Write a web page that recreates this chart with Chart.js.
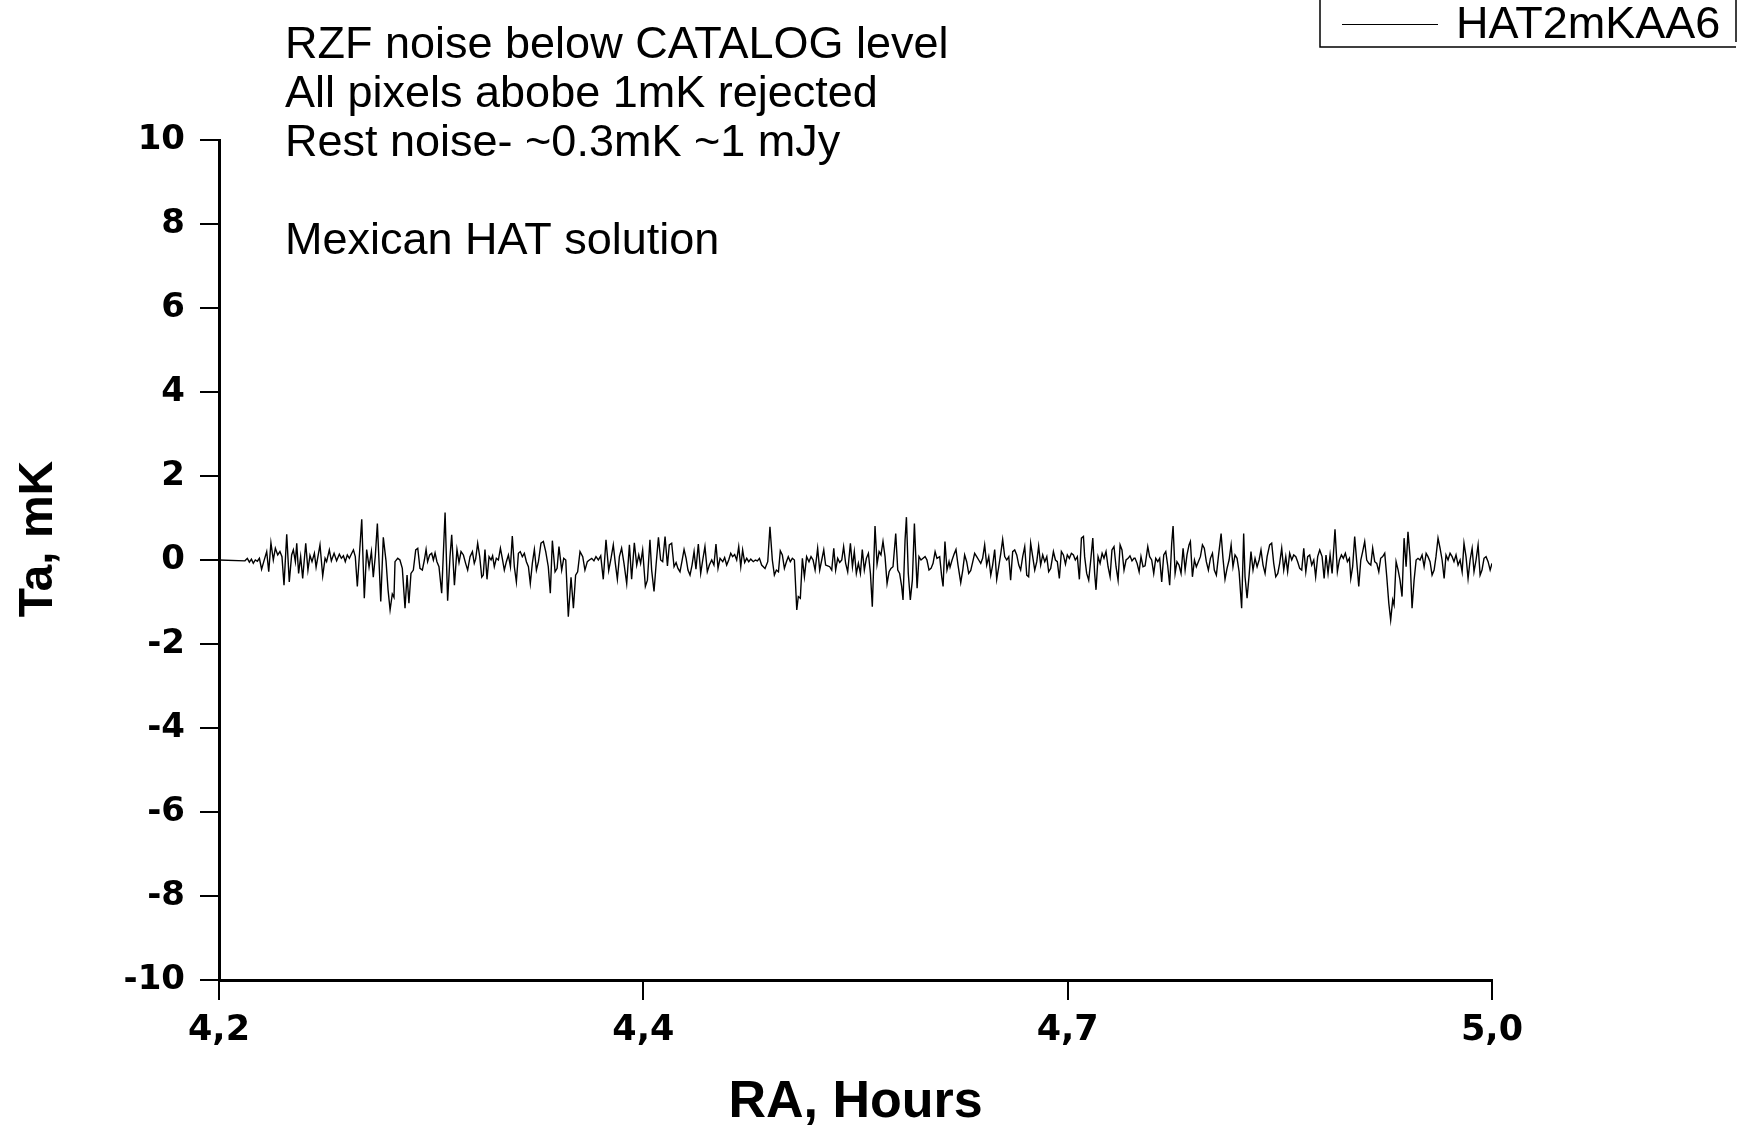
<!DOCTYPE html>
<html>
<head>
<meta charset="utf-8">
<script src="https://cdn.jsdelivr.net/npm/chart.js@4/dist/chart.umd.min.js"></script>
<style>
  html, body { margin: 0; padding: 0; background: #fff; }
  #wrap { width: 1745px; height: 1125px; }
</style>
</head>
<body>
<div id="wrap"><canvas id="chart" width="1745" height="1125"></canvas></div>
<script>
// ---------------- Data ----------------
const seriesLabel = "HAT2mKAA6";

// RA, hours
const raHours = [
  4.2, 4.2153, 4.2167, 4.2179, 4.2191, 4.2202, 4.2214, 4.2226, 4.2238, 4.2251,
  4.2265, 4.2281, 4.2293, 4.2306, 4.2320, 4.2332, 4.2346, 4.2359, 4.2371, 4.2383,
  4.2399, 4.2414, 4.2428, 4.2438, 4.2450, 4.2458, 4.2469, 4.2481, 4.2493, 4.2511,
  4.2524, 4.2536, 4.2548, 4.2562, 4.2572, 4.2595, 4.2611, 4.2625, 4.2634, 4.2650,
  4.2662, 4.2678, 4.2693, 4.2709, 4.2721, 4.2733, 4.2744, 4.2756, 4.2768, 4.2782,
  4.2792, 4.2803, 4.2815, 4.2841, 4.2856, 4.2870, 4.2884, 4.2898, 4.2909, 4.2921,
  4.2933, 4.2953, 4.2968, 4.2984, 4.2996, 4.3008, 4.3021, 4.3031,
  4.3037, 4.3053, 4.3066, 4.3080, 4.3096, 4.3108, 4.3119, 4.3131, 4.3145, 4.3159,
  4.3171, 4.3184, 4.3198, 4.3210, 4.3220, 4.3229, 4.3241, 4.3253, 4.3263, 4.3273,
  4.3284, 4.3296, 4.3312, 4.3332, 4.3347, 4.3361, 4.3371, 4.3387, 4.3402, 4.3414,
  4.3426, 4.3440, 4.3453, 4.3465, 4.3479, 4.3493, 4.3504, 4.3512, 4.3524, 4.3536,
  4.3548, 4.3557, 4.3567, 4.3579, 4.3591, 4.3603, 4.3612, 4.3622, 4.3634, 4.3646,
  4.3658, 4.3669, 4.3681, 4.3693, 4.3705, 4.3717, 4.3728, 4.3740, 4.3752, 4.3764,
  4.3775, 4.3787, 4.3799, 4.3811, 4.3823, 4.3834, 4.3846, 4.3858, 4.3870, 4.3882,
  4.3897, 4.3911, 4.3925, 4.3940, 4.3952, 4.3964, 4.3980, 4.3992, 4.4003, 4.4019,
  4.4031, 4.4043, 4.4058, 4.4074, 4.4088, 4.4101, 4.4113,
  4.4127, 4.4143, 4.4156, 4.4170, 4.4182, 4.4196, 4.4209, 4.4221, 4.4235, 4.4249,
  4.4264, 4.4280, 4.4296, 4.4308, 4.4323, 4.4335, 4.4347, 4.4359, 4.4372, 4.4386,
  4.4402, 4.4418, 4.4431, 4.4447, 4.4461, 4.4473, 4.4484, 4.4496, 4.4512, 4.4524,
  4.4539, 4.4549, 4.4563, 4.4575, 4.4589, 4.4602, 4.4614, 4.4628, 4.4642, 4.4653,
  4.4667, 4.4681, 4.4693, 4.4704, 4.4716, 4.4728, 4.4740, 4.4752, 4.4763, 4.4775,
  4.4787, 4.4799, 4.4810, 4.4824, 4.4838, 4.4850, 4.4863, 4.4877, 4.4889, 4.4903,
  4.4916, 4.4928, 4.4940, 4.4952, 4.4968, 4.4979, 4.4991, 4.5003, 4.5015, 4.5026,
  4.5038, 4.5050, 4.5062, 4.5074, 4.5085, 4.5097, 4.5109, 4.5121, 4.5133, 4.5148,
  4.5160, 4.5172, 4.5184, 4.5197,
  4.5217, 4.5233, 4.5246, 4.5260, 4.5272, 4.5284, 4.5296, 4.5307, 4.5319, 4.5331,
  4.5343, 4.5354, 4.5366, 4.5378, 4.5390, 4.5404, 4.5413, 4.5425, 4.5437, 4.5449,
  4.5462, 4.5476, 4.5488, 4.5500, 4.5512, 4.5527, 4.5539, 4.5551, 4.5563, 4.5574,
  4.5586, 4.5598, 4.5610, 4.5622, 4.5633, 4.5645, 4.5657, 4.5669, 4.5680, 4.5692,
  4.5704, 4.5720, 4.5732, 4.5743, 4.5755, 4.5767, 4.5779, 4.5790, 4.5802, 4.5814,
  4.5826, 4.5838, 4.5849, 4.5865, 4.5877, 4.5889, 4.5900, 4.5912, 4.5924, 4.5936,
  4.5948, 4.5959, 4.5971, 4.5987, 4.5999, 4.6010, 4.6022, 4.6030, 4.6042, 4.6050,
  4.6061, 4.6073, 4.6085, 4.6097, 4.6113, 4.6124, 4.6136, 4.6148, 4.6160, 4.6171,
  4.6183, 4.6195, 4.6207, 4.6219, 4.6230, 4.6246, 4.6258, 4.6266, 4.6277, 4.6289,
  4.6301,
  4.6307, 4.6319, 4.6331, 4.6342, 4.6354, 4.6370, 4.6382, 4.6393, 4.6405, 4.6417,
  4.6429, 4.6441, 4.6452, 4.6464, 4.6476, 4.6488, 4.6499, 4.6511, 4.6523, 4.6535,
  4.6547, 4.6558, 4.6570, 4.6582, 4.6594, 4.6606, 4.6617, 4.6629, 4.6641, 4.6653,
  4.6664, 4.6676, 4.6688, 4.6700, 4.6712, 4.6723, 4.6735, 4.6747, 4.6759, 4.6770,
  4.6782, 4.6794, 4.6806, 4.6818, 4.6829, 4.6841, 4.6853, 4.6865, 4.6877, 4.6888,
  4.6900, 4.6916, 4.6928, 4.6939, 4.6951, 4.6963, 4.6975, 4.6987, 4.6998, 4.7010,
  4.7022, 4.7034, 4.7045, 4.7057, 4.7069, 4.7081, 4.7093, 4.7100, 4.7112, 4.7124,
  4.7136, 4.7148, 4.7159, 4.7167, 4.7179, 4.7191, 4.7203, 4.7214, 4.7226, 4.7238,
  4.7250, 4.7261, 4.7273, 4.7285, 4.7297, 4.7309, 4.7320, 4.7332, 4.7344, 4.7356,
  4.7367, 4.7379, 4.7391,
  4.7397, 4.7409, 4.7421, 4.7432, 4.7444, 4.7456, 4.7472, 4.7483, 4.7495, 4.7507,
  4.7519, 4.7531, 4.7542, 4.7554, 4.7566, 4.7578, 4.7589, 4.7601, 4.7613, 4.7621,
  4.7633, 4.7644, 4.7656, 4.7668, 4.7680, 4.7692, 4.7703, 4.7715, 4.7723, 4.7735,
  4.7747, 4.7758, 4.7770, 4.7782, 4.7794, 4.7805, 4.7817, 4.7829, 4.7841, 4.7853,
  4.7864, 4.7876, 4.7888, 4.7904, 4.7915, 4.7927, 4.7939, 4.7951, 4.7963, 4.7974,
  4.7986, 4.7998, 4.8010, 4.8025, 4.8037, 4.8045, 4.8057, 4.8069, 4.8080, 4.8092,
  4.8104, 4.8116, 4.8128, 4.8139, 4.8151, 4.8163, 4.8175, 4.8190, 4.8202, 4.8214,
  4.8226, 4.8238, 4.8249, 4.8261, 4.8273, 4.8285, 4.8296, 4.8308, 4.8320, 4.8332,
  4.8344, 4.8355, 4.8367, 4.8379, 4.8391, 4.8403, 4.8414, 4.8426, 4.8438, 4.8450,
  4.8461, 4.8473, 4.8485,
  4.8499, 4.8511, 4.8522, 4.8534, 4.8546, 4.8558, 4.8566, 4.8575, 4.8589, 4.8601,
  4.8613, 4.8624, 4.8636, 4.8648, 4.8660, 4.8668, 4.8679, 4.8691, 4.8703, 4.8715,
  4.8727, 4.8738, 4.8750, 4.8762, 4.8774, 4.8786, 4.8797, 4.8809, 4.8821, 4.8833,
  4.8844, 4.8856, 4.8868, 4.8880, 4.8892, 4.8903, 4.8915, 4.8923, 4.8935, 4.8947,
  4.8958, 4.8970, 4.8982, 4.8994, 4.9005, 4.9017, 4.9029, 4.9041, 4.9053, 4.9064,
  4.9076, 4.9088, 4.9100, 4.9112, 4.9123, 4.9135, 4.9147, 4.9159, 4.9170, 4.9182,
  4.9194, 4.9206, 4.9218, 4.9229, 4.9241, 4.9253, 4.9265, 4.9276, 4.9288, 4.9300,
  4.9312, 4.9324, 4.9335, 4.9347, 4.9359, 4.9371, 4.9383, 4.9394, 4.9406, 4.9418,
  4.9430, 4.9441, 4.9453, 4.9465, 4.9477, 4.9489, 4.9500
];

// Ta, mK
const taMilliK = [
  0, -0.02, 0.04, -0.05, 0.02, -0.08, 0, -0.03, 0.04, -0.22,
  -0.02, 0.20, -0.28, 0.41, 0, 0.28, 0.12, 0.20, 0.08, -0.60,
  0.61, -0.52, 0.12, 0.24, -0.04, 0.40, -0.32, 0.08, -0.44, 0.40,
  -0.24, 0.11, -0.04, 0.16, -0.17, 0.36, -0.38, 0.04, -0.04, 0.24,
  -0.02, 0.16, -0.02, 0.14, 0.04, 0.10, -0.04, 0.12, 0.04, 0.16,
  0.24, 0.08, -0.63, 0.97, -0.91, 0.25, -0.17, 0.20, -0.41, 0.10,
  0.87, -0.99, 0.54, -0.02, -0.71, -1.19, -0.81, -0.89,
  -0.04, 0.04, 0, -0.20, -1.15, -0.36, -1.03, -0.32, -0.24, 0.24,
  0.28, -0.20, -0.24, 0, 0.25, -0.04, 0.12, 0.16, 0, 0.17,
  -0.04, -0.16, -0.79, 1.13, -0.97, 0.08, 0.60, -0.60, 0.25, -0.06,
  0.20, 0.12, -0.08, -0.24, 0.08, 0.20, -0.08, 0.02, 0.40, 0.08,
  -0.41, -0.36, 0.25, -0.46, 0.08, 0, 0.10, -0.16, 0.04, 0,
  0.28, 0.04, -0.24, -0.04, 0.12, -0.16, 0.57, -0.16, -0.52, 0.16,
  0.20, 0.08, 0.16, -0.04, -0.16, -0.56, -0.08, 0.25, -0.24, -0.04,
  0.40, 0.44, 0.20, -0.16, -0.79, 0.46, -0.28, -0.20, 0.32, -0.24,
  0.04, 0, -1.35, -0.41, -1.15, -0.36, -0.28,
  0.20, 0.08, -0.24, -0.04, 0, 0.04, -0.02, 0.08, 0, 0.10,
  -0.46, 0.48, -0.25, 0, 0.36, -0.08, -0.46, 0.08, 0.28, -0.08,
  -0.56, 0.36, -0.46, 0.41, -0.12, 0.12, -0.08, 0.24, -0.63, -0.48,
  0.48, -0.24, -0.75, -0.12, 0.54, 0, -0.04, 0.56, -0.14, 0.36,
  0.40, -0.16, -0.06, -0.20, -0.28, -0.02, 0.25, 0.04, -0.24, -0.36,
  -0.12, 0.20, -0.22, 0.38, -0.32, 0, 0.32, -0.28, -0.12, 0,
  -0.12, 0.38, -0.20, 0.04, -0.04, 0.06, -0.12, 0, 0.16, 0.08,
  0.13, 0, 0.32, -0.16, 0.24, -0.06, 0.04, -0.04, 0.02, -0.04,
  0, -0.02, 0.04, -0.12,
  -0.20, -0.04, 0.79, 0, -0.36, -0.24, -0.28, 0.22, 0.12, -0.20,
  -0.04, 0.08, -0.04, 0.04, 0, -1.19, -0.87, -0.91, 0.04, -0.40,
  0.08, -0.04, 0.08, 0, -0.24, 0.28, -0.24, 0, 0.24, -0.12,
  -0.14, -0.16, -0.24, 0.28, -0.24, 0.04, -0.06, 0, 0.32, -0.08,
  -0.28, 0.40, -0.16, 0.20, -0.32, -0.08, -0.32, 0.25, -0.24, 0.04,
  0.16, -0.32, -1.11, 0.81, -0.10, 0.20, 0.12, 0.44, 0.08, -0.56,
  -0.28, -0.20, -0.16, 0.63, -0.24, -0.32, -0.63, -0.95, 0.48, 1.02,
  -0.32, -0.95, -0.48, 0.87, -0.67, 0.08, 0, 0.04, 0.08, 0,
  -0.24, -0.20, -0.08, 0.20, 0.04, 0.08, -0.40, -0.63, 0.44, -0.24,
  -0.04,
  -0.17, 0, 0.14, 0.25, -0.12, -0.54, -0.24, 0.12, -0.04, -0.32,
  -0.25, -0.04, 0.16, 0.08, 0, -0.08, 0.04, 0.36, -0.12, 0.08,
  -0.36, -0.12, 0.25, -0.46, -0.16, 0.16, 0.49, 0.08, 0, 0.08,
  -0.48, 0.20, 0.24, 0.12, -0.12, -0.24, 0.08, 0.32, -0.36, -0.40,
  0.40, 0.08, -0.24, -0.04, 0.33, -0.12, 0.12, -0.04, 0.08, -0.28,
  -0.20, 0.20, 0, -0.04, -0.44, 0.20, 0.12, -0.10, 0.12, 0.04,
  0.16, 0.12, 0, 0.08, -0.46, 0.52, 0.56, 0.08, -0.32, -0.48,
  0, 0.52, -0.32, -0.71, 0.08, -0.08, 0.16, 0.04, 0.20, -0.16,
  -0.40, 0.24, 0.32, -0.16, -0.48, 0.36, 0.24, -0.24, 0, 0.04,
  0.10, -0.02, 0.04,
  0.04, -0.08, -0.28, 0.08, -0.16, -0.14, 0.32, 0.08, 0, -0.32,
  0.04, -0.04, 0.04, -0.52, 0.12, 0.20, -0.12, -0.60, 0.40, 0.81,
  -0.32, -0.04, -0.12, -0.32, 0.28, -0.24, 0.12, 0.36, 0.44, -0.40,
  0, -0.16, -0.04, 0.08, 0.36, 0.28, -0.04, -0.24, 0.04, 0.16,
  -0.24, -0.36, 0.08, 0.63, 0.04, -0.46, -0.20, 0, 0.36, -0.16,
  0.12, 0.04, -0.28, -1.15, 0.63, -0.40, -0.91, -0.36, 0.20, -0.24,
  0.04, -0.16, 0, 0.24, -0.12, -0.32, 0.08, 0.36, 0.40, -0.08,
  -0.40, -0.32, -0.08, 0.28, -0.24, 0.08, -0.28, 0.16, 0, 0.12,
  0.08, -0.04, -0.20, -0.24, 0.28, -0.28, 0.08, 0.12, -0.12, 0,
  -0.40, 0.08, 0.24,
  0.08, -0.44, 0.12, -0.32, 0.12, -0.32, 0.16, 0.73, -0.28, 0,
  0.12, 0.04, 0.16, -0.04, 0.04, -0.44, -0.16, 0.56, -0.04, -0.63,
  0, 0.20, 0.44, 0, -0.08, -0.12, 0.28, -0.04, -0.08, -0.28,
  0.04, 0.08, 0.16, -0.40, -1.03, -1.43, -0.95, -1.07, -0.04, -0.24,
  -0.48, -0.87, 0.52, -0.16, 0.67, 0.08, -1.15, -0.48, 0, 0.04,
  0, 0.12, -0.16, 0.16, 0.08, -0.04, -0.36, -0.24, 0.08, 0.52,
  0.28, 0, -0.44, 0.12, 0, 0.16, 0.08, -0.04, 0.12, -0.12,
  0, -0.28, 0.40, 0.08, -0.44, 0, 0.28, -0.28, 0, 0.36,
  -0.36, -0.24, 0.04, 0.08, -0.04, -0.24, -0.08
];

// Axis ticks
const xTickValues = [4.2, 4.45, 4.7, 4.95];
const xTickLabels = ["4,2", "4,4", "4,7", "5,0"];

// Axis titles
const xTitle = "RA, Hours";
const yTitle = "Ta, mK";

// Annotation lines (blank = empty line)
const noteLines = [
  "RZF noise below CATALOG level",
  "All pixels abobe 1mK rejected",
  "Rest noise- ~0.3mK ~1 mJy",
  "",
  "Mexican HAT solution",
];

// ---------------- Plugins ----------------
const FONT = '"Liberation Sans", Arial, Helvetica, sans-serif';
const TICK_FONT = '"DejaVu Sans", Verdana, sans-serif';

const notesPlugin = {
  id: "notes",
  afterDraw(chart) {
    const ctx = chart.ctx;
    ctx.save();
    ctx.fillStyle = "#000";
    ctx.textBaseline = "alphabetic";
    ctx.textAlign = "left";
    ctx.font = `45px ${FONT}`;
    noteLines.forEach((t, i) => {
      if (t) ctx.fillText(t, 285, 58 + i * 49);
    });

    // y axis title, sits a bit above the middle of the axis
    ctx.save();
    ctx.translate(39, 539);
    ctx.rotate(-Math.PI / 2);
    ctx.textAlign = "center";
    ctx.textBaseline = "middle";
    ctx.font = `bold 48px ${FONT}`;
    ctx.fillText(yTitle, 0, 0);
    ctx.restore();

    // legend box (top edge runs off the page)
    ctx.strokeStyle = "#000";
    ctx.lineWidth = 1.5;
    ctx.beginPath();
    ctx.moveTo(1320, 0);
    ctx.lineTo(1320, 47);
    ctx.lineTo(1736, 47);
    ctx.moveTo(1736, 0);
    ctx.lineTo(1736, 42);
    ctx.stroke();

    ctx.lineWidth = 1;
    ctx.beginPath();
    ctx.moveTo(1342, 24.5);
    ctx.lineTo(1438, 24.5);
    ctx.stroke();

    ctx.font = `45px ${FONT}`;
    ctx.fillText(chart.data.datasets[0].label, 1456, 38);
    ctx.restore();
  },
};

// ---------------- Chart ----------------
const points = raHours.map((x, i) => ({ x, y: taMilliK[i] }));

new Chart(document.getElementById("chart"), {
  type: "line",
  data: {
    datasets: [{
      label: seriesLabel,
      data: points,
      borderColor: "#000",
      borderWidth: 1.4,
      pointRadius: 0,
      tension: 0,
      fill: false,
    }],
  },
  options: {
    responsive: false,
    animation: false,
    events: [],
    layout: { padding: { top: 140, right: 253, left: 0, bottom: 0 } },
    plugins: {
      legend: { display: false },
      tooltip: { enabled: false },
    },
    scales: {
      x: {
        type: "linear",
        min: 4.2,
        max: 4.95,
        afterFit: s => { s.height = 145; },
        afterBuildTicks: s => { s.ticks = xTickValues.map(value => ({ value })); },
        ticks: {
          color: "#000",
          font: { family: TICK_FONT, size: 35, weight: "bold" },
          padding: 10,
          maxRotation: 0,
          autoSkip: false,
          callback: (v, i) => xTickLabels[i],
        },
        grid: { drawOnChartArea: false, drawTicks: true, tickLength: 20, color: "#000", lineWidth: 2 },
        border: { display: true, color: "#000", width: 3 },
        title: {
          display: true,
          text: xTitle,
          color: "#000",
          font: { family: FONT, size: 52, weight: "bold", lineHeight: 1 },
          padding: { top: 0, bottom: -4 },
        },
      },
      y: {
        min: -10,
        max: 10,
        afterFit: s => { s.width = 219; },
        ticks: {
          stepSize: 2,
          color: "#000",
          font: { family: TICK_FONT, size: 34, weight: "bold" },
          padding: 15,
        },
        grid: { drawOnChartArea: false, drawTicks: true, tickLength: 19, color: "#000", lineWidth: 2 },
        border: { display: true, color: "#000", width: 3 },
        title: { display: false },
      },
    },
  },
  plugins: [notesPlugin],
});
</script>
</body>
</html>
